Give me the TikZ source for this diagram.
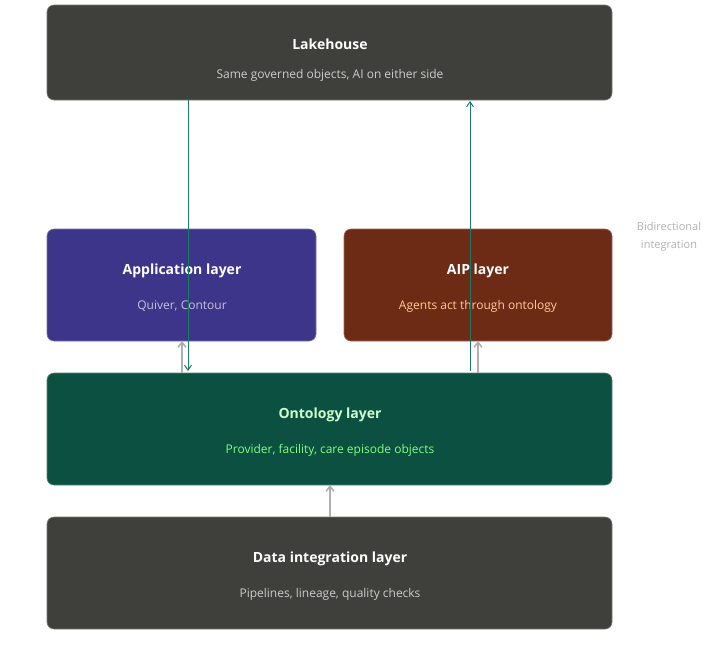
\documentclass[tikz,border=0pt]{standalone}
\usepackage{fontspec}
\setmainfont{Open Sans}
\usetikzlibrary{arrows.meta}
\definecolor{lake}{HTML}{3F3F3B}
\definecolor{app}{HTML}{3D3589}
\definecolor{aip}{HTML}{6D2A14}
\definecolor{onto}{HTML}{0B5040}
\definecolor{link}{HTML}{1E7A66}
\definecolor{grayarr}{HTML}{B0B0B0}
\begin{document}
\begin{tikzpicture}[x=1pt,y=-1pt,
  box/.style={draw=#1!70!white,fill=#1,rounded corners=7pt,line width=0.6pt},
  ttl/.style={font=\bfseries\fontsize{14}{16}\selectfont,text=white},
  sub/.style={font=\fontsize{12}{14}\selectfont},
  green/.style={draw=link,line width=1pt,-{Straight Barb[length=5pt,width=7pt]}},
  gray/.style={draw=grayarr,line width=1.6pt,-{Straight Barb[length=5pt,width=8pt]}}]
\useasboundingbox[fill=white] (0,0) rectangle (727,649);
\draw[box=lake] (47,5) rectangle (612,100);
\node[ttl] (lt) at (330,44) {Lakehouse};
\node[sub,text=gray!40] (ls) at (330,75) {Same governed objects, AI on either side};
\draw[box=app] (47,229) rectangle (316,341);
\node[ttl] (at) at (182,271) {Application layer};
\node[sub,text=app!30!white] (as) at (182,306) {Quiver, Contour};
\draw[box=aip] (344,229) rectangle (612,341);
\node[ttl] (pt) at (478,271) {AIP layer};
\node[sub,text=orange!40!white] (ps) at (478,306) {Agents act through ontology};
\draw[box=onto] (47,373) rectangle (612,485);
\node[ttl,text=green!20!white] (ot) at (330,415) {Ontology layer};
\node[sub,text=green!50!white] (os) at (330,450) {Provider, facility, care episode objects};
\draw[box=lake] (47,517) rectangle (612,629);
\node[ttl] (dt) at (330,559) {Data integration layer};
\node[sub,text=gray!40] (ds) at (330,594) {Pipelines, lineage, quality checks};
\node[font=\fontsize{11}{18}\selectfont,text=gray!60,align=center] (bi) at (669,237) {Bidirectional\\integration};
\coordinate (g1a) at (188,100); \coordinate (g1b) at (188,371);
\coordinate (g2a) at (470,371); \coordinate (g2b) at (470,101);
\draw[green] (g1a) -- (g1b);
\draw[green] (g2a) -- (g2b);
\coordinate (a1) at (182,373); \coordinate (a2) at (182,341);
\coordinate (b1) at (478,373); \coordinate (b2) at (478,341);
\coordinate (c1) at (330,517); \coordinate (c2) at (330,485);
\draw[gray] (a1) -- (a2);
\draw[gray] (b1) -- (b2);
\draw[gray] (c1) -- (c2);
\end{tikzpicture}
\end{document}
